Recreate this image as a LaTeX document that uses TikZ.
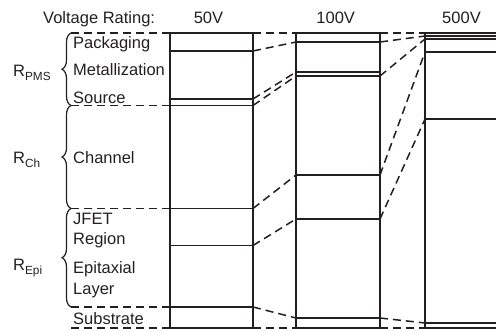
\documentclass[tikz,border=0pt]{standalone}
\usepackage{fontspec}
\setmainfont{Liberation Sans}
\usetikzlibrary{decorations.pathreplacing}
\definecolor{ink}{HTML}{231F20}
\tikzset{
  wall/.style={draw=ink,line width=1.6pt},
  link/.style={draw=ink,line width=1.5pt,dash pattern=on 8pt off 5pt},
  curly/.style={draw=ink,line width=1.2pt,decorate,decoration={brace,amplitude=9pt}},
  rating/.style={anchor=base,inner sep=0pt,text=ink,font=\fontsize{16.5}{19}\selectfont},
  layertext/.style={rating,anchor=base west}
}
\newcommand{\cut}[4]{%
  \coordinate (#1-w) at (#2,#4);
  \coordinate (#1-e) at (#3,#4);
  \draw[wall] (#1-w) -- (#1-e);
}
\newcommand{\rsub}[1]{R\raisebox{-3.4pt}{\fontsize{11.8}{12}\selectfont #1}}

\begin{document}
\begin{tikzpicture}[x=1pt,y=-1pt]
  \useasboundingbox (0,0) rectangle (496,331);

  % Header row.
  \node[layertext] (vr) at (43,23.3) {Voltage Rating:};
  \node[rating] (h50) at (208.5,23.3) {50V};
  \node[rating] (h100) at (335.7,23.3) {100V};
  \node[rating] (h500) at (461.5,23.3) {500V};

  % Column outlines (the 500V one runs off the right edge).
  \draw[wall] (170,33) rectangle (253,328);
  \draw[wall] (296,33) rectangle (380,328);
  \draw[wall] (496,33) -- (425,33) -- (425,328) -- (496,328);

  % Layer boundaries, 50V.
  \cut{a0}{170}{253}{33}
  \cut{a1}{170}{253}{51}
  \cut{a2}{170}{253}{99}
  \cut{a3}{170}{253}{105.5}
  \cut{a4}{170}{253}{208.5}
  \cut{a5}{170}{253}{245.5}
  \cut{a6}{170}{253}{307}
  \cut{a7}{170}{253}{328}

  % Layer boundaries, 100V.
  \cut{b0}{296}{380}{33}
  \cut{b1}{296}{380}{42}
  \cut{b2}{296}{380}{72}
  \cut{b3}{296}{380}{76}
  \cut{b4}{296}{380}{175}
  \cut{b5}{296}{380}{219}
  \cut{b6}{296}{380}{318}
  \cut{b7}{296}{380}{328}

  % Layer boundaries, 500V.
  \cut{c0}{425}{496}{33}
  \cut{c1}{425}{496}{36}
  \cut{c2}{425}{496}{39}
  \cut{c3}{425}{496}{52}
  \cut{c4}{425}{496}{119}
  \cut{c5}{425}{496}{323}
  \cut{c6}{425}{496}{328}

  % Brace ends on the left.
  \coordinate (l0) at (71,33);
  \coordinate (l3) at (71,105.5);
  \coordinate (l4) at (71,208.5);
  \coordinate (l6) at (71,307);
  \coordinate (l7) at (71,328);

  % Dashed guides from the labels into the 50V column.
  \draw[link] (l0) -- (a0-w);
  \draw[link] (l3) -- (a3-w);
  \draw[link] (l4) -- (a4-w);
  \draw[link] (l6) -- (a6-w);
  \draw[link] (l7) -- (a7-w);

  % 50V to 100V.
  \draw[link] (a0-e) -- (b0-w);
  \draw[link] (a1-e) -- (b1-w);
  \draw[link] (a2-e) -- (b2-w);
  \draw[link] (a3-e) -- (b3-w);
  \draw[link] (a4-e) -- (b4-w);
  \draw[link] (a5-e) -- (b5-w);
  \draw[link] (a6-e) -- (b6-w);
  \draw[link] (a7-e) -- (b7-w);

  % 100V to 500V.
  \draw[link] (b0-e) -- (c0-w);
  \draw[link] (b1-e) -- (c1-w);
  \draw[link] (b3-e) -- (c2-w);
  \draw[link] (b4-e) -- (c3-w);
  \draw[link] (b5-e) -- (c4-w);
  \draw[link] (b6-e) -- (c5-w);
  \draw[link] (b7-e) -- (c6-w);

  % Resistance groups.
  \draw[curly] (l3) -- (l0);
  \draw[curly] (l4) -- (l3);
  \draw[curly] (l6) -- (l4);
  \node[layertext] (rpms) at (13,76.7) {\rsub{PMS}};
  \node[layertext] (rch) at (13,164) {\rsub{Ch}};
  \node[layertext] (repi) at (13,271) {\rsub{Epi}};

  % Layer names.
  \node[layertext] (pkg) at (73,48.3) {Packaging};
  \node[layertext] (met) at (73,76) {Metallization};
  \node[layertext] (src) at (73,104) {Source};
  \node[layertext] (chn) at (73,163.3) {Channel};
  \node[layertext] (jfet) at (73,225) {JFET};
  \node[layertext] (reg) at (73,245) {Region};
  \node[layertext] (epi) at (73,274) {Epitaxial};
  \node[layertext] (lay) at (73,295) {Layer};
  \node[layertext] (sub) at (73,324.3) {Substrate};
\end{tikzpicture}
\end{document}
